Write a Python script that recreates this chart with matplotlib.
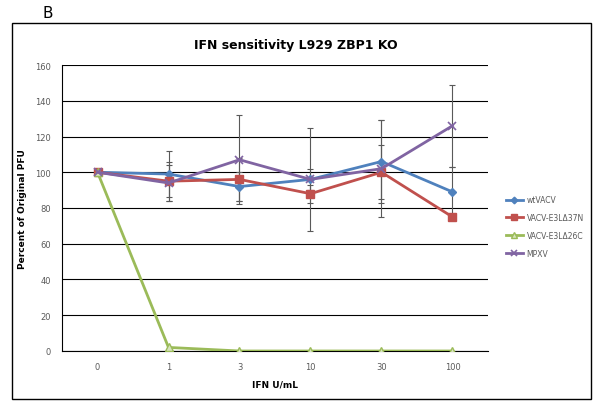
import matplotlib
matplotlib.use("Agg")
import matplotlib.pyplot as plt
from matplotlib.patches import Rectangle
from matplotlib.lines import Line2D

doses = ["0", "1", "3", "10", "30", "100"]

wt = [100, 99, 92, 96, 106, 89]
wt_err = [0, 13, 8, 6, 23, 14]
d37n = [100, 95, 96, 88, 100, 75]
d37n_err = [0, 11, 12, 5, 15, 0]
d26c = [100, 2, 0, 0, 0, 0]
mpxv = [100, 94, 107, 96, 102, 126]
mpxv_err = [0, 10, 25, 29, 27, 23]

fig = plt.figure(figsize=(5.94, 4.02), dpi=100)
ax = fig.add_axes([0.1044, 0.1244, 0.7171, 0.7114])

x = range(len(doses))
ecol = "#595959"
styles = [
    ("wtVACV", wt, wt_err, dict(color="#4F81BD", marker="D", ms=4.5)),
    ("VACV-E3LΔ37N", d37n, d37n_err, dict(color="#C0504D", marker="s", ms=6)),
    ("VACV-E3LΔ26C", d26c, None, dict(color="#9BBB59", marker="^", ms=6, mfc="#D7E4BD", mec="#9BBB59")),
    ("MPXV", mpxv, mpxv_err, dict(color="#8064A2", marker="x", ms=6, mew=1.2)),
]

handles = []
for name, vals, err, st in styles:
    if err is not None:
        ax.errorbar(x, vals, yerr=err, fmt="none", ecolor=ecol, elinewidth=0.8,
                    capsize=2.5, capthick=0.8, zorder=2)
    ax.plot(x, vals, lw=2, zorder=3, **st)
    leg_st = dict(st)
    leg_st["ms"] = st["ms"] * 0.75
    handles.append(Line2D([], [], lw=2, label=name, **leg_st))

ax.set_xlim(-0.5, len(doses) - 0.5)
ax.set_ylim(0, 160)
ax.set_yticks(range(0, 161, 20))
ax.set_xticks(list(x))
ax.set_xticklabels(doses)
ax.yaxis.grid(True, color="black", lw=0.8)
ax.set_axisbelow(True)
for s in ["top", "right"]:
    ax.spines[s].set_visible(False)
ax.spines["left"].set_color("black")
ax.spines["bottom"].set_color("black")
ax.tick_params(axis="both", length=0, labelsize=6, labelcolor="#595959", pad=8)

ax.set_xlabel("IFN U/mL", fontsize=6.5, fontweight="bold", labelpad=6)
ax.set_ylabel("Percent of Original PFU", fontsize=6.5, fontweight="bold", labelpad=6)
ax.set_title("IFN sensitivity L929 ZBP1 KO", fontsize=9, fontweight="bold", pad=12, x=0.55)

leg = ax.legend(handles=handles, loc="upper left", bbox_to_anchor=(1.035, 0.555), frameon=False,
                fontsize=5.5, labelspacing=1.15, handlelength=2.2, handletextpad=0.5,
                borderaxespad=0)
for t in leg.get_texts():
    t.set_color("#595959")

fig.patches.append(Rectangle((12 / 594, 0.005), (591 - 12) / 594, (402 - 24) / 402 - 0.005,
                             transform=fig.transFigure, fill=False, ec="black", lw=1))
fig.text(42 / 594, 1 - 13 / 402, "B", fontsize=11, va="center", ha="left")

fig.savefig("out.png", dpi=100)
